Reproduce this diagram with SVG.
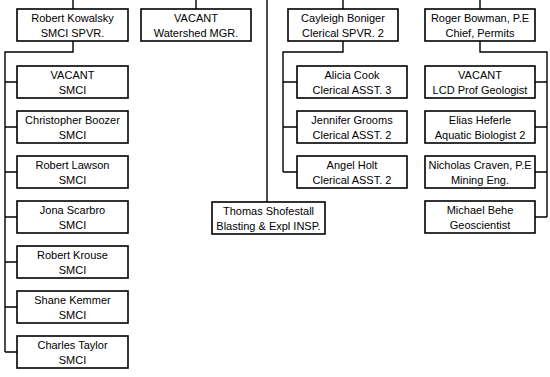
<svg xmlns="http://www.w3.org/2000/svg" width="550" height="377" viewBox="0 0 550 377">
<style>
.b{fill:#fff;stroke:#000;stroke-width:1.6}
.t{font-family:"Liberation Sans",Arial,sans-serif;font-size:11px;fill:#000;text-anchor:middle}
.c{fill:none;stroke:#000;stroke-width:1.4}
</style>
<rect width="550" height="377" fill="#fff"/>
<g id="connectors">
<path class="c" d="M73 0V9M196 0V9M267 0V202M343 0V9M480 0V9"/>
<path class="c" d="M73 41V52H5V352M5 82H17M5 127H17M5 172H17M5 217H17M5 262H17M5 307H17M5 352H17"/>
<path class="c" d="M343 41V52H283V172M283 82H297M283 127H297M283 172H297"/>
<path class="c" d="M480 41V52H547V217M547 82H535M547 127H535M547 172H535M547 217H535"/>
</g>
<g id="kowalsky"><rect class="b" x="17" y="9" width="111" height="32"/><text class="t" x="72.5" y="22">Robert Kowalsky</text><text class="t" x="72.5" y="37">SMCI SPVR.</text></g>
<g id="watershed"><rect class="b" x="141" y="9" width="110" height="32"/><text class="t" x="196" y="22">VACANT</text><text class="t" x="196" y="37">Watershed MGR.</text></g>
<g id="boniger"><rect class="b" x="288" y="9" width="110" height="32"/><text class="t" x="343" y="22">Cayleigh Boniger</text><text class="t" x="343" y="37">Clerical SPVR. 2</text></g>
<g id="bowman"><rect class="b" x="425" y="9" width="110" height="32"/><text class="t" x="480" y="22">Roger Bowman, P.E</text><text class="t" x="480" y="37">Chief, Permits</text></g>

<g id="smci1"><rect class="b" x="17" y="66" width="111" height="32"/><text class="t" x="72.5" y="79">VACANT</text><text class="t" x="72.5" y="94">SMCI</text></g>
<g id="boozer"><rect class="b" x="17" y="111" width="111" height="32"/><text class="t" x="72.5" y="124">Christopher Boozer</text><text class="t" x="72.5" y="139">SMCI</text></g>
<g id="lawson"><rect class="b" x="17" y="156" width="111" height="32"/><text class="t" x="72.5" y="169">Robert Lawson</text><text class="t" x="72.5" y="184">SMCI</text></g>
<g id="scarbro"><rect class="b" x="17" y="201" width="111" height="32"/><text class="t" x="72.5" y="214">Jona Scarbro</text><text class="t" x="72.5" y="229">SMCI</text></g>
<g id="krouse"><rect class="b" x="17" y="246" width="111" height="32"/><text class="t" x="72.5" y="259">Robert Krouse</text><text class="t" x="72.5" y="274">SMCI</text></g>
<g id="kemmer"><rect class="b" x="17" y="291" width="111" height="32"/><text class="t" x="72.5" y="304">Shane Kemmer</text><text class="t" x="72.5" y="319">SMCI</text></g>
<g id="taylor"><rect class="b" x="17" y="336" width="111" height="32"/><text class="t" x="72.5" y="349">Charles Taylor</text><text class="t" x="72.5" y="364">SMCI</text></g>

<g id="cook"><rect class="b" x="297" y="66" width="110" height="32"/><text class="t" x="352" y="79">Alicia Cook</text><text class="t" x="352" y="94">Clerical ASST. 3</text></g>
<g id="grooms"><rect class="b" x="297" y="111" width="110" height="32"/><text class="t" x="352" y="124">Jennifer Grooms</text><text class="t" x="352" y="139">Clerical ASST. 2</text></g>
<g id="holt"><rect class="b" x="297" y="156" width="110" height="32"/><text class="t" x="352" y="169">Angel Holt</text><text class="t" x="352" y="184">Clerical ASST. 2</text></g>

<g id="shofestall"><rect class="b" x="212" y="202" width="113" height="32"/><text class="t" x="268.5" y="215">Thomas Shofestall</text><text class="t" x="268.5" y="230">Blasting &amp; Expl INSP.</text></g>

<g id="geologist"><rect class="b" x="425" y="66" width="110" height="32"/><text class="t" x="480" y="79">VACANT</text><text class="t" x="480" y="94">LCD Prof Geologist</text></g>
<g id="heferle"><rect class="b" x="425" y="111" width="110" height="32"/><text class="t" x="480" y="124">Elias Heferle</text><text class="t" x="480" y="139">Aquatic Biologist 2</text></g>
<g id="craven"><rect class="b" x="425" y="156" width="110" height="32"/><text class="t" x="480" y="169">Nicholas Craven, P.E</text><text class="t" x="480" y="184">Mining Eng.</text></g>
<g id="behe"><rect class="b" x="425" y="201" width="110" height="32"/><text class="t" x="480" y="214">Michael Behe</text><text class="t" x="480" y="229">Geoscientist</text></g>
</svg>
